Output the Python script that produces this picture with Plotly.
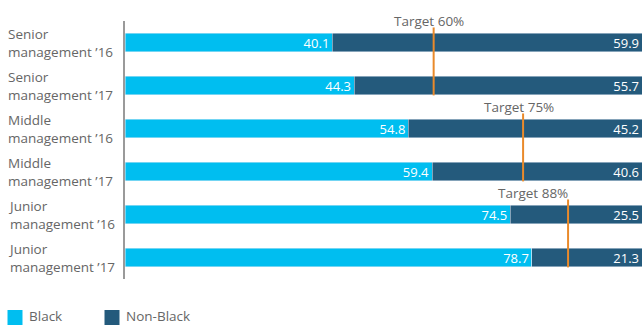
import plotly.graph_objects as go

categories = ["Senior<br>management ’16", "Senior<br>management ’17",
              "Middle<br>management ’16", "Middle<br>management ’17",
              "Junior<br>management ’16", "Junior<br>management ’17"]
black = [40.1, 44.3, 54.8, 59.4, 74.5, 78.7]
non_black = [59.9, 55.7, 45.2, 40.6, 25.5, 21.3]
target_labels = ["Target 60%", "Target 75%", "Target 88%"]
target_rows = [0, 2, 4]
target_line_x = [59.7, 77.0, 85.7]   # positions as drawn in the source

CYAN = "#00BEF0"
NAVY = "#245A7C"
ORANGE = "#E98A2B"
GRAY = "#666666"
FONT = "Open Sans"
FS = 13.5

W, H = 642, 325
L, R, T, B = 125, 0, 21, 46
PW, PH = W - L - R, H - T - B

def px_x(px):
    return (px - L) / PW

def px_y(py):
    return (H - B - py) / PH

ycats = list(range(len(categories)))

fig = go.Figure()
fig.add_bar(y=ycats, x=black, orientation="h", marker_color=CYAN, width=0.44,
            text=[f"{v:.1f}" for v in black], textposition="inside",
            insidetextanchor="end", constraintext="none",
            textfont=dict(color="white", size=13, family=FONT), name="Black",
            showlegend=False)
fig.add_bar(y=ycats, x=non_black, orientation="h", marker_color=NAVY, width=0.44,
            text=[f"{v:.1f}" for v in non_black], textposition="inside",
            insidetextanchor="end", constraintext="none",
            textfont=dict(color="white", size=13, family=FONT), name="Non-Black",
            showlegend=False)

shapes = []
annotations = []
label_shift = [-5, -4, -35]
for lab, r, tx, sh in zip(target_labels, target_rows, target_line_x, label_shift):
    shapes.append(dict(type="line", xref="x", yref="y", x0=tx, x1=tx,
                       y0=r - 0.35, y1=r + 1.23,
                       line=dict(color=ORANGE, width=2)))
    annotations.append(dict(x=tx, y=r, xref="x", yref="y", text=lab,
                            showarrow=False, xanchor="center", yanchor="middle",
                            xshift=sh, yshift=22,
                            font=dict(family=FONT, size=FS, color=GRAY)))

for i, c in enumerate(categories):
    annotations.append(dict(x=px_x(6), y=i, xref="paper", yref="y", text=c,
                            showarrow=False, xanchor="left", yanchor="middle",
                            align="left",
                            font=dict(family=FONT, size=FS, color=GRAY)))

# legend
for (x0, x1, col), (tx, lab) in zip([(7.5, 22.5, CYAN), (104.5, 119.5, NAVY)],
                                    [(27, "Black"), (124, "Non-Black")]):
    shapes.append(dict(type="rect", xref="paper", yref="paper",
                       x0=px_x(x0), x1=px_x(x1), y0=px_y(325), y1=px_y(310),
                       fillcolor=col, line=dict(width=0)))
    annotations.append(dict(x=px_x(tx), y=px_y(315.5), xref="paper", yref="paper",
                            text=lab, showarrow=False, xanchor="left",
                            yanchor="middle",
                            font=dict(family=FONT, size=FS, color=GRAY)))

fig.update_layout(
    barmode="stack", width=W, height=H,
    margin=dict(l=L, r=R, t=T, b=B, pad=0),
    plot_bgcolor="white", paper_bgcolor="white",
    shapes=shapes, annotations=annotations,
    xaxis=dict(range=[0, 100], visible=False, fixedrange=True),
    yaxis=dict(range=[5.5, -0.5], showticklabels=False, ticks="",
               showgrid=False, zeroline=False, showline=True,
               linecolor="#9A9A9A", linewidth=2),
    font=dict(family=FONT, color=GRAY),
)

fig.write_html("out.html")
